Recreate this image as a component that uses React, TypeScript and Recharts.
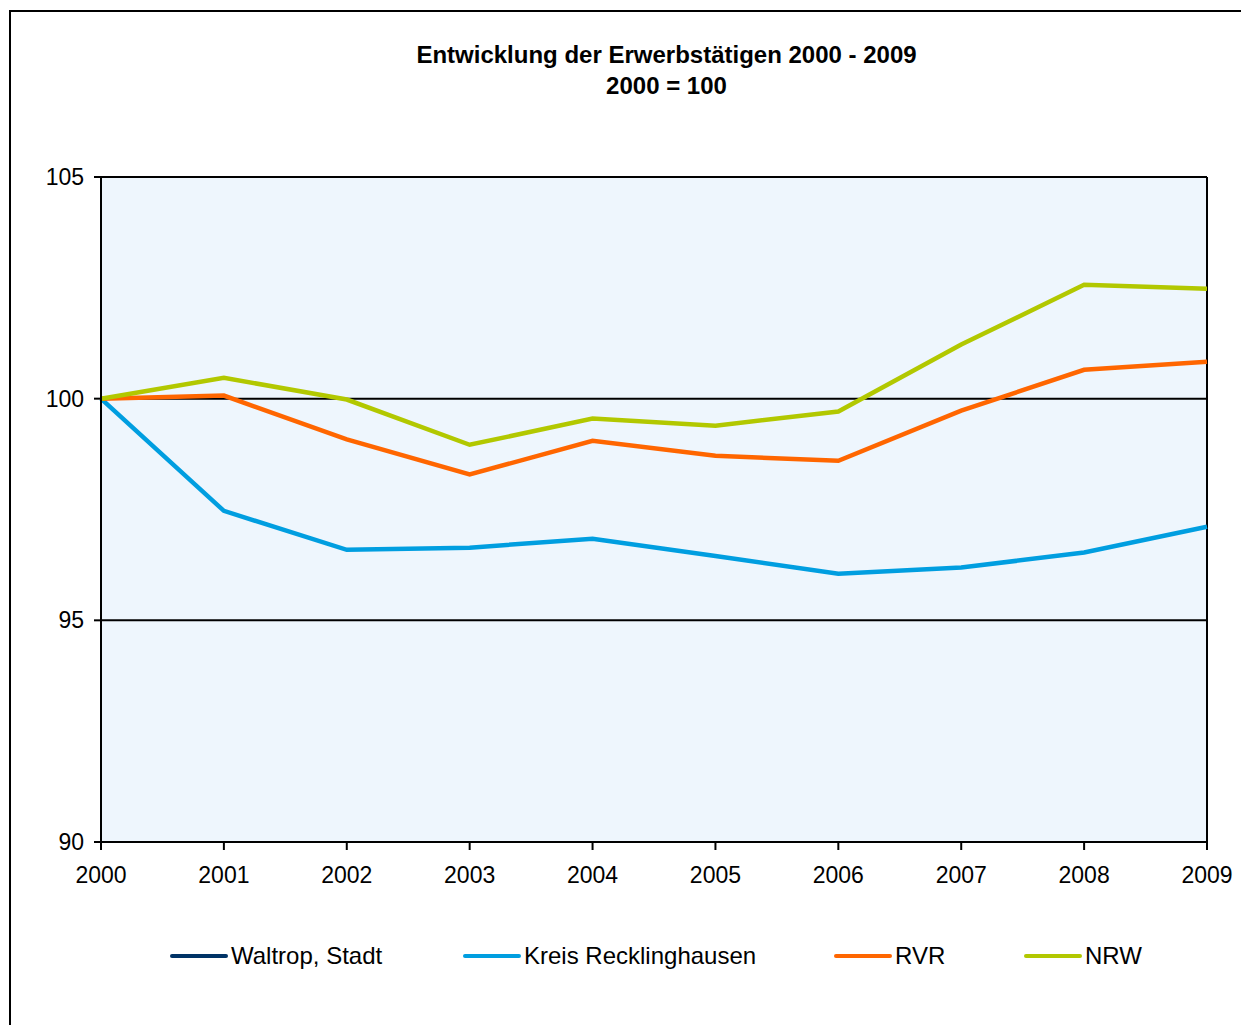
import React from 'react';
import {
  LineChart,
  Line,
  XAxis,
  YAxis,
  CartesianGrid,
  ReferenceLine
} from 'recharts';

const years = ['2000', '2001', '2002', '2003', '2004', '2005', '2006', '2007', '2008', '2009'];
// Waltrop lies outside the plotted range in the source, only its legend entry shows
const waltrop: (number | null)[] = [null, null, null, null, null, null, null, null, null, null];
const kreis = [100, 97.47, 96.59, 96.64, 96.84, 96.45, 96.05, 96.19, 96.53, 97.11];
const rvr = [100, 100.07, 99.08, 98.29, 99.05, 98.71, 98.6, 99.73, 100.65, 100.83];
const nrw = [100, 100.47, 99.98, 98.96, 99.55, 99.39, 99.71, 101.22, 102.57, 102.48];
const yTicks = [90, 95, 100, 105];

const series = [
  { key: 'waltrop', name: 'Waltrop, Stadt', color: '#003366', values: waltrop },
  { key: 'kreis', name: 'Kreis Recklinghausen', color: '#009EE0', values: kreis },
  { key: 'rvr', name: 'RVR', color: '#FF6600', values: rvr },
  { key: 'nrw', name: 'NRW', color: '#B2C800', values: nrw }
];

const data = years.map((year, i) => {
  const row: Record<string, string | number | null> = { year };
  series.forEach(s => {
    row[s.key] = s.values[i];
  });
  return row;
});

const font = '"Liberation Sans", Arial, sans-serif';

// legend positions as in the original
const legendLeft = [170, 463, 834, 1024];

export default function App() {
  return (
    <div style={{ position: 'absolute', left: 0, top: 0, width: 1241, height: 1025, overflow: 'hidden', fontFamily: font, background: '#fff' }}>
      <div style={{ position: 'absolute', left: 9, top: 10, width: 1300, height: 1100, border: '2px solid #000', boxSizing: 'border-box' }} />
      <div style={{ position: 'absolute', left: 0, top: 39, width: 1333, textAlign: 'center', fontWeight: 'bold', fontSize: 24, lineHeight: '31px', color: '#000' }}>
        <div>Entwicklung der Erwerbstätigen 2000 - 2009</div>
        <div>2000 = 100</div>
      </div>
      <div style={{ position: 'absolute', left: 0, top: 0 }}>
        <LineChart
          width={1241}
          height={1025}
          data={data}
          margin={{ top: 177, right: 34, bottom: 0, left: 36 }}
        >
          <CartesianGrid fill="#EEF6FD" horizontal={false} vertical={false} />
          <XAxis
            dataKey="year"
            height={183}
            axisLine={{ stroke: '#000', strokeWidth: 2 }}
            tickLine={{ stroke: '#000', strokeWidth: 2 }}
            tickSize={8}
            tick={{ fill: '#000', fontSize: 23, fontFamily: font }}
            tickMargin={17}
            interval={0}
          />
          <YAxis
            width={65}
            domain={[90, 105]}
            ticks={yTicks}
            allowDataOverflow
            axisLine={{ stroke: '#000', strokeWidth: 2 }}
            tickLine={{ stroke: '#000', strokeWidth: 2 }}
            tickSize={7}
            tick={{ fill: '#000', fontSize: 23, fontFamily: font }}
            tickMargin={10}
          />
          <ReferenceLine y={95} stroke="#000" strokeWidth={2} />
          <ReferenceLine y={100} stroke="#000" strokeWidth={2} />
          <ReferenceLine y={105} stroke="#000" strokeWidth={2} />
          <ReferenceLine x="2009" stroke="#000" strokeWidth={2} />
          {series.map(s => (
            <Line
              key={s.key}
              dataKey={s.key}
              name={s.name}
              stroke={s.color}
              strokeWidth={4.5}
              dot={false}
              activeDot={false}
              type="linear"
              isAnimationActive={false}
            />
          ))}
        </LineChart>
      </div>
      {series.map((s, i) => (
        <div key={s.key} style={{ position: 'absolute', left: legendLeft[i], top: 942, display: 'flex', alignItems: 'center', fontSize: 24, color: '#000', whiteSpace: 'nowrap' }}>
          <span style={{ display: 'inline-block', width: 58, height: 4, borderRadius: 2, background: s.color, marginRight: 3 }} />
          <span>{s.name}</span>
        </div>
      ))}
    </div>
  );
}
